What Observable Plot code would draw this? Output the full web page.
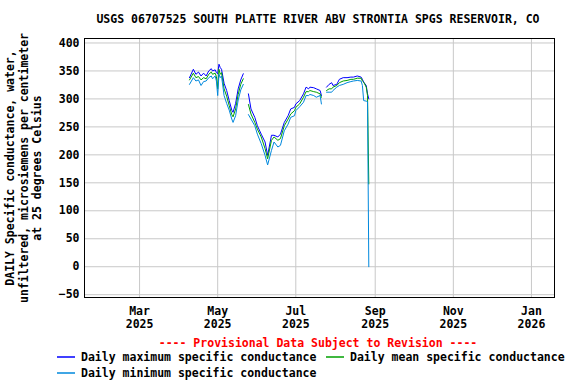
<!DOCTYPE html>
<html>
<head>
<meta charset="utf-8">
<script src="https://cdn.jsdelivr.net/npm/d3@7"></script>
<script src="https://cdn.jsdelivr.net/npm/@observablehq/plot@0.6"></script>
<style>
  html, body { margin: 0; padding: 0; background: #fff; }
  #chart { width: 576px; height: 384px; }
</style>
</head>
<body>
<div id="chart"></div>
<script>
// ---- Data ----
const title = "USGS 06707525 SOUTH PLATTE RIVER ABV STRONTIA SPGS RESERVOIR, CO";
const yTitleLines = ["DAILY Specific conductance, water,", "unfiltered, microsiemens per centimeter", "at 25 degrees Celsius"];
const provisional = "---- Provisional Data Subject to Revision ----";
const seriesNames = ["Daily maximum specific conductance", "Daily mean specific conductance", "Daily minimum specific conductance"];
const seriesColors = ["#0000ff", "#00a000", "#0088dd"];

const dates = ["2025-04-09","2025-04-12","2025-04-14","2025-04-16","2025-04-18","2025-04-20","2025-04-22","2025-04-24","2025-04-26","2025-04-27","2025-04-29","2025-04-30","2025-05-01","2025-05-02","2025-05-03","2025-05-04","2025-05-06","2025-05-08","2025-05-10","2025-05-12","2025-05-13","2025-05-15","2025-05-17","2025-05-19","2025-05-21","2025-05-23","2025-05-25","2025-05-27","2025-05-30","2025-06-01","2025-06-04","2025-06-07","2025-06-09","2025-06-12","2025-06-14","2025-06-17","2025-06-19","2025-06-22","2025-06-25","2025-06-27","2025-06-30","2025-07-01","2025-07-04","2025-07-07","2025-07-09","2025-07-11","2025-07-12","2025-07-15","2025-07-17","2025-07-20","2025-07-21","2025-07-23","2025-07-25","2025-07-27","2025-07-29","2025-07-30","2025-08-02","2025-08-04","2025-08-07","2025-08-10","2025-08-13","2025-08-15","2025-08-18","2025-08-21","2025-08-22","2025-08-23","2025-08-25","2025-08-26","2025-08-27"];
const maxVals  = [338,353,344,348,341,346,341,350,354,350,352,347,345,362,356,353,328,315,297,280,276,292,318,334,345,null,309,282,267,252,237,223,199,235,235,232,237,258,270,282,285,291,297,309,321,318,321,320,318,315,306,null,321,326,329,324,326,335,338,338,339,339,341,339,335,330,324,309,300];
const meanVals = [334,346,338,340,334,338,336,344,348,344,346,340,318,353,344,347,318,305,288,272,268,282,308,326,336,null,290,273,258,246,232,211,193,226,232,226,229,252,264,273,279,285,291,303,313,313,315,313,312,309,303,null,315,318,318,321,324,329,332,333,335,335,337,337,332,330,321,306,148];
const minVals  = [326,338,332,334,324,331,332,338,341,336,341,332,306,344,338,341,306,292,280,264,258,270,298,316,326,null,272,264,252,237,220,199,182,208,223,214,217,243,255,267,270,279,286,294,306,306,308,306,303,306,291,null,312,312,312,315,321,324,326,329,331,332,333,332,324,297,296,295,0];

const xTickDates = ["2025-03-01","2025-05-01","2025-07-01","2025-09-01","2025-11-01","2026-01-01"];
const yTicks = [-50, 0, 50, 100, 150, 200, 250, 300, 350, 400];
const xDomain = ["2025-01-17", "2026-01-19"];
const yDomain = [-55, 408];

// ---- Build table ----
const rows = [];
const parse = d3.utcParse("%Y-%m-%d");
[maxVals, meanVals, minVals].forEach((vals, i) => {
  dates.forEach((d, j) => rows.push({date: parse(d), value: vals[j], series: seriesNames[i]}));
});
const fmtMon = d3.utcFormat("%b");
const fmtYr = d3.utcFormat("%Y");

const FONT = "'DejaVu Sans Mono', 'Liberation Mono', monospace";

const plot = Plot.plot({
  width: 576,
  height: 384,
  marginTop: 38,
  marginRight: 22,
  marginBottom: 87,
  marginLeft: 84,
  style: {fontFamily: FONT, fontSize: "11.5px", fontWeight: "bold", color: "black", background: "white"},
  x: {type: "utc", domain: xDomain.map(parse)},
  y: {domain: yDomain},
  color: {domain: seriesNames, range: seriesColors},
  marks: [
    Plot.gridX(xTickDates.map(parse), {stroke: "#c8c8c8", strokeOpacity: 1}),
    Plot.gridY(yTicks, {stroke: "#c8c8c8", strokeOpacity: 1}),
    Plot.axisX(xTickDates.map(parse), {tickSize: 0, tickPadding: 8, tickFormat: d => fmtMon(d) + "\n" + fmtYr(d), lineHeight: 1.13, label: null, fill: "black"}),
    Plot.axisY(yTicks, {tickSize: 0, tickPadding: 5, label: null, fill: "black"}),
    Plot.line(rows, {x: "date", y: "value", z: "series", stroke: "series", strokeWidth: 1, curve: "linear"}),
    Plot.frame({stroke: "black", strokeWidth: 1})
  ]
});
document.getElementById("chart").appendChild(plot);

// ---- Title, y-axis title, provisional note, legend ----
const svg = d3.select(plot);
const txt = (x, y, s, opts = {}) => svg.append("text")
  .attr("x", x).attr("y", y)
  .attr("font-family", FONT).attr("font-size", opts.size || "11.5px").attr("font-weight", "bold")
  .attr("fill", opts.fill || "black")
  .attr("text-anchor", opts.anchor || "start")
  .attr("dominant-baseline", "central")
  .attr("transform", opts.transform || null)
  .text(s);

txt(318, 19, title, {anchor: "middle"});
const yc = 168;
[10, 23.5, 37].forEach((cx, i) => {
  txt(0, 0, yTitleLines[i], {anchor: "middle", transform: `translate(${cx},${yc}) rotate(-90)`});
});
txt(318, 343, provisional, {anchor: "middle", fill: "#ff0000"});

const legend = [
  {x: 57, y: 357, i: 0},
  {x: 326, y: 357, i: 1},
  {x: 57, y: 373, i: 2}
];
legend.forEach(({x, y, i}) => {
  svg.append("line").attr("x1", x).attr("x2", x + 18).attr("y1", y).attr("y2", y)
    .attr("stroke", seriesColors[i]).attr("stroke-width", 1.5);
  txt(x + 24, y, seriesNames[i]);
});
</script>
</body>
</html>
